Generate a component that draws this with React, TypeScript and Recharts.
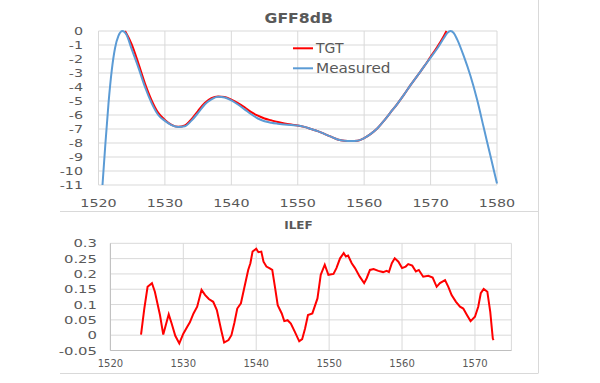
import { LineChart, Line, XAxis, YAxis, CartesianGrid } from "recharts";

// GFF8dB (top chart)
const measuredWl = [1520.6, 1521, 1521.5, 1522, 1522.5, 1523, 1523.6, 1524.2, 1525, 1526, 1527, 1528, 1529, 1530, 1531, 1532, 1533, 1534, 1535, 1536, 1537, 1538, 1539, 1540, 1541, 1542, 1543, 1544, 1545, 1546, 1547, 1548, 1549, 1550, 1551, 1552, 1553, 1554, 1555, 1556, 1557, 1558, 1559, 1560, 1561, 1562, 1563, 1564, 1565, 1566, 1567, 1568, 1569, 1570, 1571, 1572, 1572.5, 1573, 1573.5, 1574, 1575, 1576, 1577, 1578, 1579, 1580];
const measuredDb = [-11, -8.3, -5.2, -2.8, -1.2, -0.35, 0, -0.25, -1.3, -2.6, -4.0, -5.15, -6.0, -6.42, -6.72, -6.85, -6.8, -6.4, -5.85, -5.25, -4.88, -4.7, -4.75, -4.95, -5.25, -5.6, -5.95, -6.25, -6.45, -6.55, -6.62, -6.68, -6.72, -6.75, -6.85, -7.0, -7.15, -7.35, -7.55, -7.75, -7.84, -7.86, -7.84, -7.65, -7.35, -6.95, -6.4, -5.8, -5.2, -4.55, -3.85, -3.2, -2.55, -1.9, -1.25, -0.5, -0.15, 0, -0.15, -0.6, -1.8, -3.2, -4.9, -6.9, -8.9, -10.9];
const tgtWl = [1524, 1525, 1526, 1527, 1528, 1529, 1530, 1531, 1532, 1533, 1534, 1535, 1536, 1537, 1538, 1539, 1540, 1541, 1542, 1543, 1544, 1545, 1546, 1547, 1548, 1549, 1550, 1551, 1552, 1553, 1554, 1555, 1556, 1557, 1558, 1559, 1560, 1561, 1562, 1563, 1564, 1565, 1566, 1567, 1568, 1569, 1570, 1571, 1572, 1572.4];
const tgtDb = [0, -0.95, -2.3, -3.75, -4.95, -5.85, -6.35, -6.7, -6.84, -6.75, -6.3, -5.7, -5.15, -4.8, -4.68, -4.72, -4.9, -5.15, -5.45, -5.8, -6.05, -6.25, -6.38, -6.5, -6.6, -6.68, -6.75, -6.85, -7.0, -7.15, -7.35, -7.55, -7.75, -7.84, -7.86, -7.84, -7.65, -7.35, -6.95, -6.4, -5.8, -5.2, -4.55, -3.85, -3.2, -2.55, -1.85, -1.15, -0.35, 0];
const gffXTicks = [1520, 1530, 1540, 1550, 1560, 1570, 1580];
const gffYTicks = [0, -1, -2, -3, -4, -5, -6, -7, -8, -9, -10, -11];

// ILEF (bottom chart)
const ilefWl = [1524.2, 1524.65, 1525.1, 1525.7, 1526.1, 1526.8, 1527.25, 1527.6, 1528.0, 1528.4, 1528.9, 1529.45, 1530.0, 1530.6, 1530.9, 1531.4, 1531.9, 1532.5, 1533.0, 1533.5, 1534.1, 1534.6, 1535.2, 1535.6, 1536.2, 1536.6, 1537.0, 1537.4, 1537.9, 1538.35, 1538.9, 1539.2, 1539.5, 1540.0, 1540.3, 1540.7, 1541.0, 1541.4, 1541.8, 1542.2, 1542.6, 1542.95, 1543.5, 1543.85, 1544.3, 1544.75, 1545.3, 1545.9, 1546.3, 1546.7, 1547.1, 1547.7, 1548.4, 1548.85, 1549.4, 1549.9, 1550.6, 1551.0, 1551.5, 1552.0, 1552.3, 1552.6, 1553.1, 1553.55, 1554.2, 1554.8, 1555.15, 1555.6, 1556.1, 1556.75, 1557.4, 1557.9, 1558.2, 1558.6, 1559.0, 1559.5, 1560.0, 1560.5, 1560.85, 1561.4, 1561.9, 1562.3, 1562.9, 1563.6, 1564.2, 1564.75, 1565.2, 1565.9, 1566.35, 1566.8, 1567.4, 1567.95, 1568.4, 1568.9, 1569.4, 1570.0, 1570.45, 1570.8, 1571.2, 1571.7, 1572.1, 1572.45, 1572.55];
const ilefVal = [0.002, 0.087, 0.158, 0.17, 0.142, 0.066, 0.002, 0.033, 0.068, 0.038, -0.002, -0.027, 0.005, 0.03, 0.042, 0.071, 0.093, 0.148, 0.131, 0.118, 0.109, 0.082, 0.016, -0.024, -0.016, 0.0, 0.04, 0.087, 0.104, 0.153, 0.213, 0.235, 0.273, 0.282, 0.271, 0.273, 0.24, 0.224, 0.219, 0.213, 0.153, 0.098, 0.071, 0.046, 0.049, 0.038, 0.011, -0.02, -0.013, 0.022, 0.066, 0.071, 0.12, 0.197, 0.23, 0.197, 0.2, 0.219, 0.251, 0.268, 0.257, 0.26, 0.235, 0.219, 0.191, 0.17, 0.186, 0.213, 0.216, 0.21, 0.206, 0.21, 0.206, 0.235, 0.251, 0.24, 0.219, 0.224, 0.232, 0.227, 0.208, 0.213, 0.191, 0.194, 0.188, 0.158, 0.17, 0.18, 0.158, 0.131, 0.109, 0.093, 0.087, 0.066, 0.046, 0.06, 0.093, 0.137, 0.151, 0.142, 0.076, -0.011, -0.016];
const ilefXTicks = [1520, 1530, 1540, 1550, 1560, 1570];
const ilefYTicks = [-0.05, 0, 0.05, 0.1, 0.15, 0.2, 0.25, 0.3];

const measured = measuredWl.map((x, i) => ({ x, y: measuredDb[i] }));
const tgt = tgtWl.map((x, i) => ({ x, y: tgtDb[i] }));
const ilef = ilefWl.map((x, i) => ({ x, y: ilefVal[i] }));

const FONT = "DejaVu Sans";
const TEXT = "#595959";
const GRID = "#D9D9D9";

const tickText = (tx: number, ty: number, sx: number, size: number, anchor: string, label: any) => (
  <text
    transform={`translate(${tx},${ty}) scale(${sx},1)`}
    textAnchor={anchor}
    fontSize={size}
    fontFamily={FONT}
    fill={TEXT}
  >
    {label}
  </text>
);

const TopXTick = ({ x, y, payload }: any) => tickText(x, y + 21.5, 1.3, 11, "middle", payload.value);
const TopYTick = ({ x, y, payload }: any) => tickText(x - 15.5, y + 4, 1.3, 11, "end", payload.value);
const BotXTick = ({ x, y, payload }: any) => tickText(x, y + 16, 1, 10, "middle", payload.value);
const BotYTick = ({ x, y, payload }: any) => tickText(x - 13.4, y + 4, 1.35, 11, "end", payload.value);

export default function App() {
  return (
    <div style={{ position: "absolute", left: 0, top: 0, width: 600, height: 383, background: "#fff", overflow: "hidden" }}>
      <svg width={600} height={383} style={{ position: "absolute", left: 0, top: 0 }}>
        <text transform="translate(298.7,23.3) scale(1.12,1)" textAnchor="middle" fontSize={14} fontWeight="bold" fontFamily={FONT} fill={TEXT}>
          GFF8dB
        </text>
        <text transform="translate(298.5,228.5) scale(1.2,1)" textAnchor="middle" fontSize={10} fontWeight="bold" fontFamily={FONT} fill={TEXT}>
          ILEF
        </text>
        <line x1={60} x2={538} y1={211.5} y2={211.5} stroke={GRID} />
        <line x1={60} x2={538} y1={373.5} y2={373.5} stroke={GRID} />
        <line x1={538.5} x2={538.5} y1={0} y2={373.5} stroke={GRID} />
      </svg>

      <div style={{ position: "absolute", left: 0, top: 0 }}>
        <LineChart width={600} height={212} margin={{ top: 31, right: 103, bottom: 0, left: 0 }}>
          <CartesianGrid stroke={GRID} />
          <XAxis
            type="number"
            dataKey="x"
            domain={[1520, 1580]}
            ticks={gffXTicks}
            interval={0}
            height={27}
            axisLine={false}
            tickLine={false}
            tickSize={0}
            tickMargin={0}
            tick={<TopXTick />}
          />
          <YAxis
            type="number"
            domain={[-11, 0]}
            ticks={gffYTicks}
            interval={0}
            width={98.5}
            axisLine={false}
            tickLine={false}
            tickSize={0}
            tickMargin={0}
            tick={<TopYTick />}
          />
          <Line data={tgt} dataKey="y" name="TGT" type="monotone" stroke="#FF0000" strokeWidth={2} dot={false} isAnimationActive={false} />
          <Line data={measured} dataKey="y" name="Measured" type="monotone" stroke="#5B9BD5" strokeWidth={2} dot={false} isAnimationActive={false} />
        </LineChart>
      </div>

      <div style={{ position: "absolute", left: 0, top: 215 }}>
        <LineChart width={600} height={158} margin={{ top: 28.3, right: 88.6, bottom: 0, left: 0 }}>
          <CartesianGrid stroke={GRID} />
          <XAxis
            type="number"
            dataKey="x"
            domain={[1520, 1575]}
            ticks={ilefXTicks}
            interval={0}
            height={22.5}
            axisLine={{ stroke: "#BFBFBF" }}
            tickLine={false}
            tickSize={0}
            tickMargin={0}
            tick={<BotXTick />}
          />
          <YAxis
            type="number"
            domain={[-0.05, 0.3]}
            ticks={ilefYTicks}
            interval={0}
            width={110.4}
            axisLine={{ stroke: "#BFBFBF" }}
            tickLine={false}
            tickSize={0}
            tickMargin={0}
            tick={<BotYTick />}
          />
          <Line data={ilef} dataKey="y" name="ILEF" type="linear" stroke="#FF0000" strokeWidth={2} dot={false} isAnimationActive={false} />
        </LineChart>
      </div>

      {/* legend of the top chart */}
      <svg width={120} height={44} style={{ position: "absolute", left: 290, top: 38 }}>
        <line x1={3} x2={23} y1={10.3} y2={10.3} stroke="#FF0000" strokeWidth={2} />
        <text x={26} y={14.7} fontSize={14} fontFamily={FONT} fill={TEXT}>TGT</text>
        <line x1={3} x2={23} y1={30.3} y2={30.3} stroke="#5B9BD5" strokeWidth={2} />
        <text transform="translate(26,34.7) scale(1.09,1)" fontSize={14} fontFamily={FONT} fill={TEXT}>Measured</text>
      </svg>
    </div>
  );
}
